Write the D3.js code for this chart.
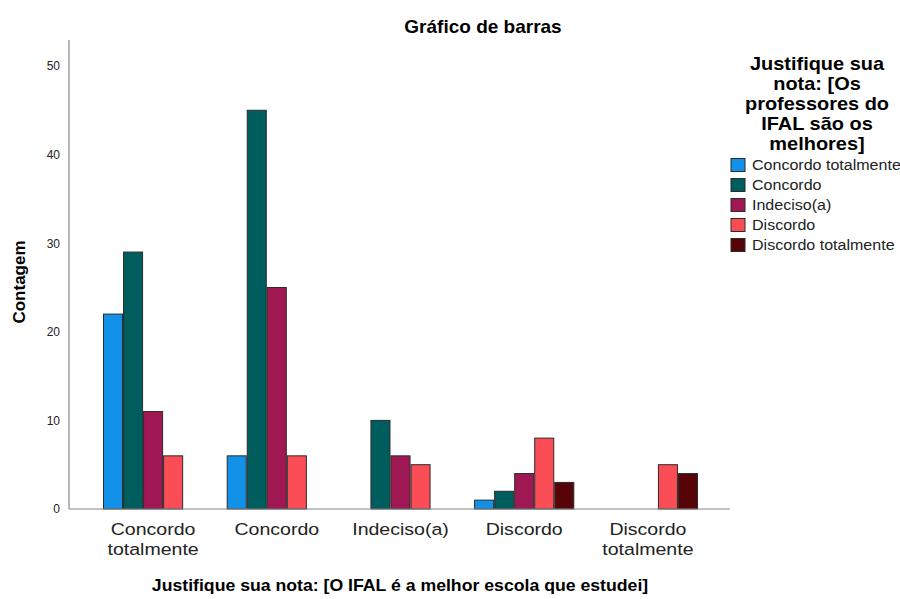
<!DOCTYPE html>
<html>
<head>
  <meta charset="utf-8">
  <title>Gráfico de barras</title>
  <style>
    body { margin: 0; background: #fff; }
    text { font-family: "Liberation Sans", Arial, sans-serif; }
  </style>
  <script src="https://d3js.org/d3.v7.min.js"></script>
</head>
<body>
<svg width="900" height="599"></svg>
<script>
// categories on the x axis (O IFAL é a melhor escola)
var categories = ["Concordo totalmente", "Concordo", "Indeciso(a)", "Discordo", "Discordo totalmente"];
// legend series (Os professores do IFAL são os melhores)
var series = ["Concordo totalmente", "Concordo", "Indeciso(a)", "Discordo", "Discordo totalmente"];
var colors = ["#1192e8", "#005d5d", "#9f1853", "#fa4d56", "#570408"];
// counts: one row per x category, one value per series (null = no bar)
var counts = [
  [22, 29, 11, 6, null],
  [6, 45, 25, 6, null],
  [null, 10, 6, 5, null],
  [1, 2, 4, 8, 3],
  [null, null, null, 5, 4]
];
var yTicks = [0, 10, 20, 30, 40, 50];

var svg = d3.select("svg");

var plotLeft = 69, plotRight = 730, plotTop = 40, plotBottom = 509;

var x0 = d3.scaleBand().domain(categories).range([103, 698])
  .paddingInner(0.19).paddingOuter(0);
var x1 = d3.scaleBand().domain(series).range([0, x0.bandwidth()]);
var y = d3.scaleLinear().domain([0, 50]).range([plotBottom, 66]);

// text helper: the reference glyphs are a bit wider than Arial
function label(x, yy, sx, size, bold, lines, dy) {
  var t = svg.append("text")
    .attr("transform", "translate(" + x + "," + yy + ") scale(" + sx + ",1)")
    .attr("text-anchor", "middle")
    .attr("font-size", size + "px")
    .attr("font-weight", bold ? "bold" : "normal")
    .attr("fill", bold ? "#000" : "#222");
  lines.forEach(function(s, k) {
    t.append("tspan").attr("x", 0).attr("y", k * dy).text(s);
  });
  return t;
}

// title
label(483, 33, 1.0, 19, true, ["Gráfico de barras"], 0);

// bars
var groups = svg.selectAll(".grp")
  .data(counts)
  .enter().append("g")
  .attr("transform", function(d, i) { return "translate(" + x0(categories[i]) + ",0)"; });

groups.selectAll("rect")
  .data(function(d) { return d.map(function(v, j) { return { s: series[j], v: v, c: colors[j] }; }).filter(function(e) { return e.v !== null; }); })
  .enter().append("rect")
  .attr("x", function(d) { return x1(d.s) + 0.5; })
  .attr("y", function(d) { return y(d.v); })
  .attr("width", x1.bandwidth() - 1)
  .attr("height", function(d) { return plotBottom - y(d.v); })
  .attr("fill", function(d) { return d.c; })
  .attr("stroke", "#2b2b2b")
  .attr("stroke-width", 1);

// axes
var yAxis = svg.append("g")
  .attr("transform", "translate(" + plotLeft + ",0)")
  .call(d3.axisLeft(y).tickValues(yTicks).tickSize(0).tickPadding(9));
yAxis.select(".domain").remove();
yAxis.selectAll("text").attr("font-size", "12px").attr("fill", "#222")
  .style("font-family", "'Liberation Sans', Arial, sans-serif");

svg.append("line")
  .attr("x1", plotLeft).attr("x2", plotLeft).attr("y1", plotTop).attr("y2", plotBottom)
  .attr("stroke", "#888").attr("stroke-width", 1.2);
svg.append("line")
  .attr("x1", plotLeft).attr("x2", plotRight).attr("y1", plotBottom).attr("y2", plotBottom)
  .attr("stroke", "#888").attr("stroke-width", 1.2);

// wrapped category labels
categories.forEach(function(c) {
  label(x0(c) + x0.bandwidth() / 2, 535, 1.15, 17, false, c.split(" "), 20);
});

// axis titles
label(400, 591, 1.04, 17, true, ["Justifique sua nota: [O IFAL é a melhor escola que estudei]"], 0);

svg.append("text")
  .attr("transform", "translate(25,282) rotate(-90)")
  .attr("text-anchor", "middle")
  .attr("font-size", "17px").attr("font-weight", "bold")
  .text("Contagem");

// legend
var legendTitle = ["Justifique sua", "nota: [Os", "professores do", "IFAL são os", "melhores]"];
label(817, 70, 1.05, 19, true, legendTitle, 20);

var leg = svg.selectAll(".leg")
  .data(series)
  .enter().append("g")
  .attr("transform", function(d, i) { return "translate(731," + (158.5 + i * 20) + ")"; });
leg.append("rect")
  .attr("width", 14).attr("height", 13)
  .attr("fill", function(d, i) { return colors[i]; })
  .attr("stroke", "#2b2b2b");
leg.append("text")
  .attr("transform", "translate(21,11.5) scale(1.07,1)")
  .attr("font-size", "15px").attr("fill", "#222")
  .text(function(d) { return d; });
</script>
</body>
</html>
